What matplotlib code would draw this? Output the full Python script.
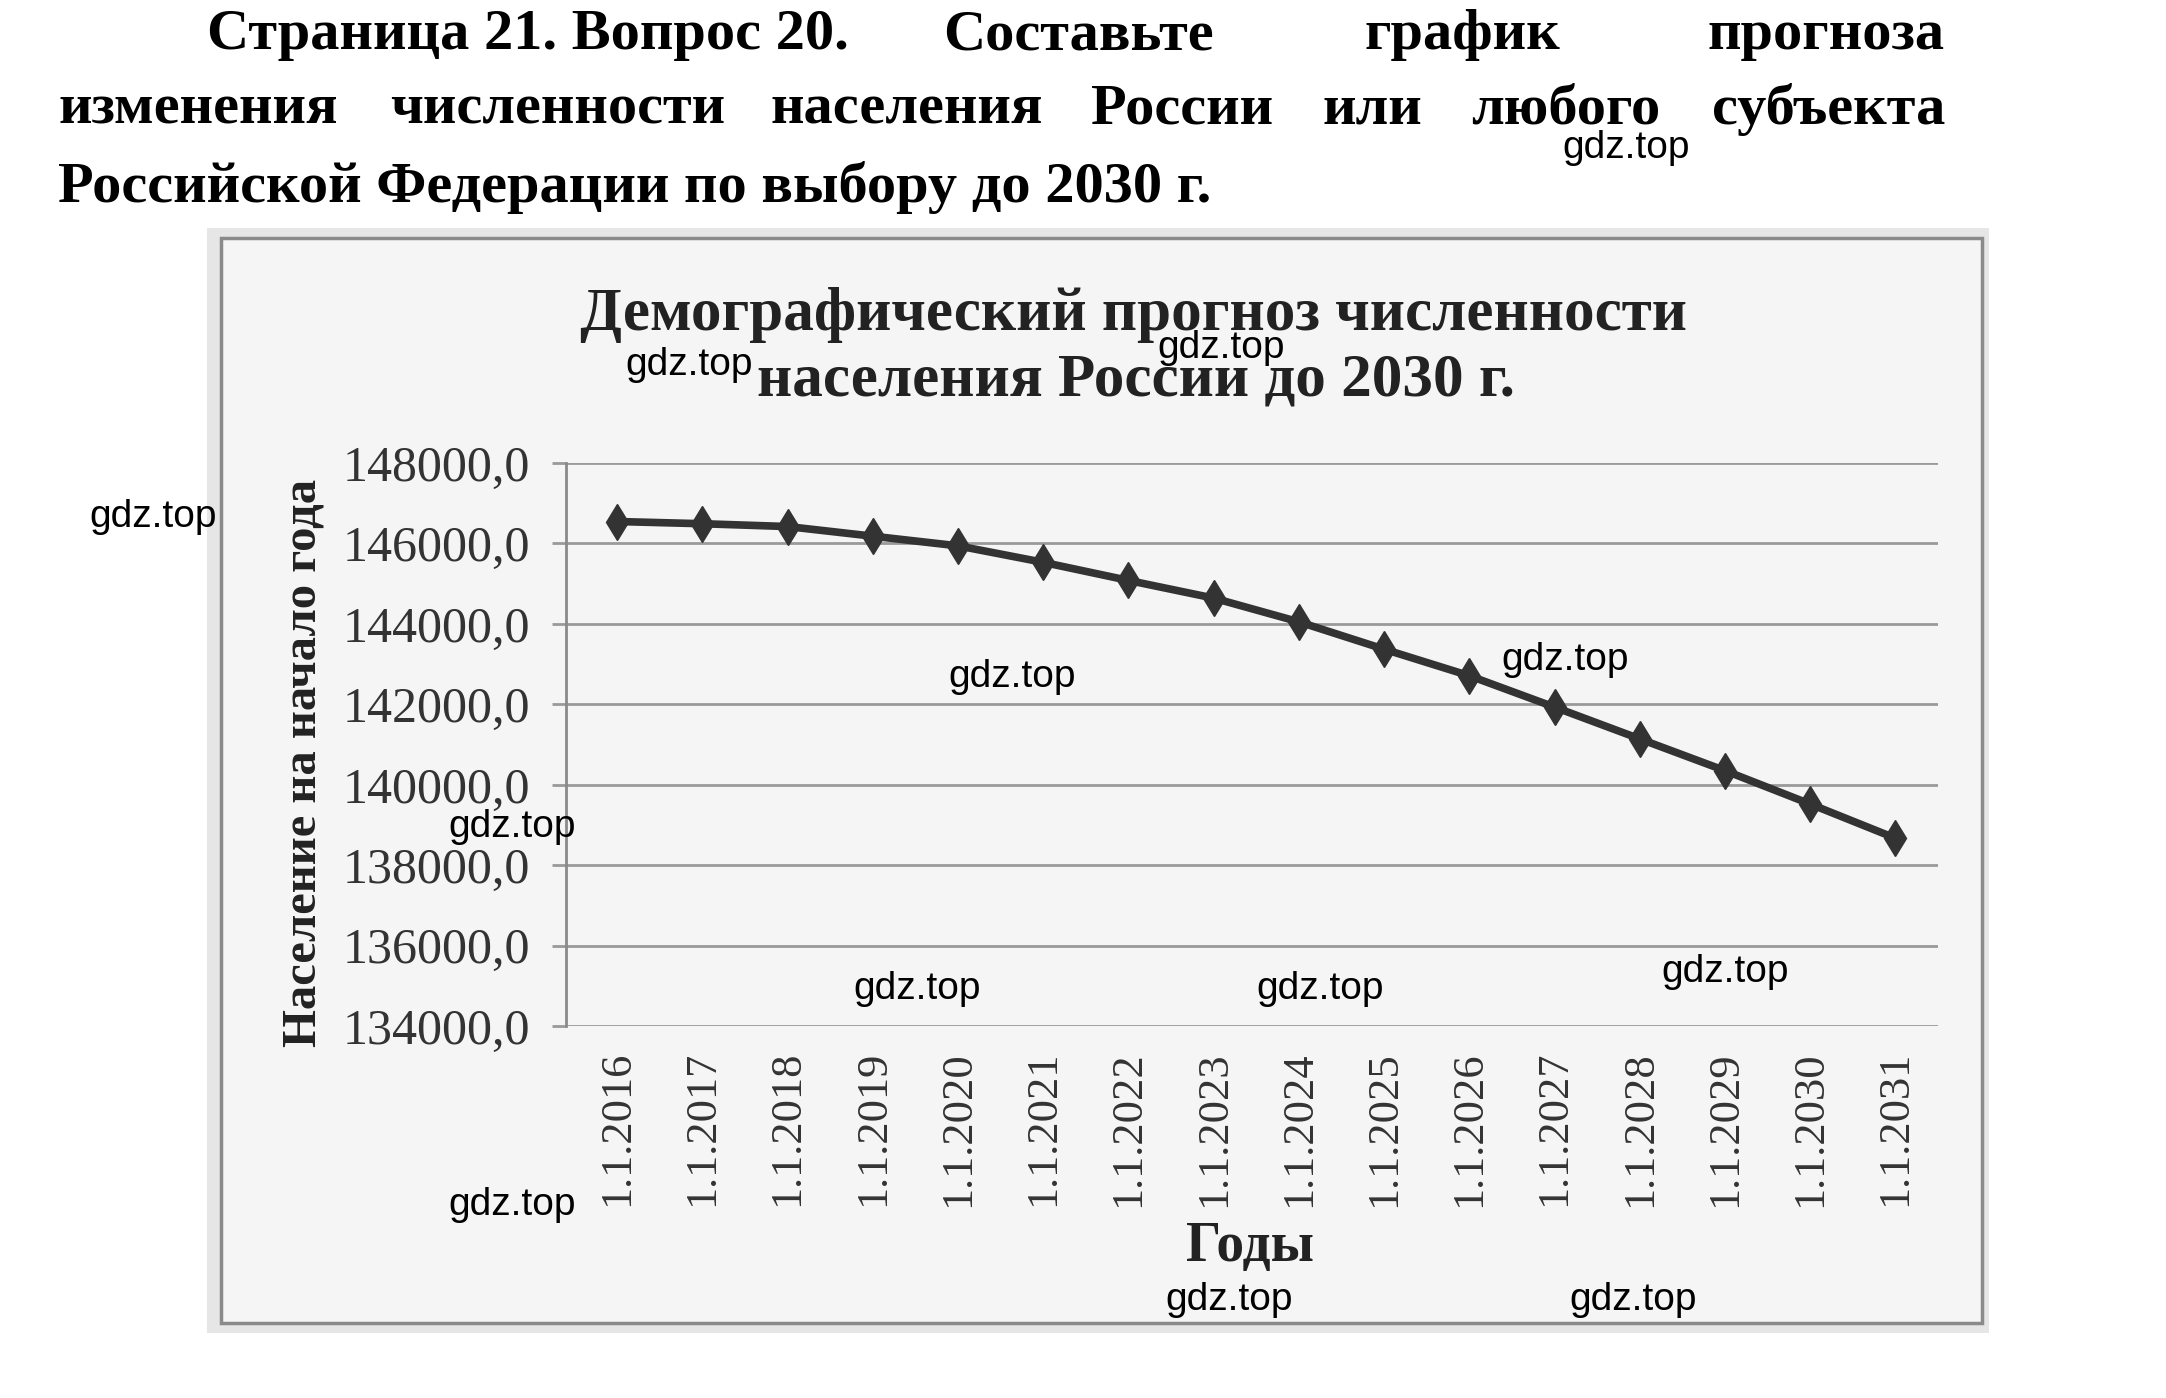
import numpy as np
import matplotlib.pyplot as plt
from matplotlib.patches import Rectangle

# data
years = ['1.1.2016', '1.1.2017', '1.1.2018', '1.1.2019', '1.1.2020', '1.1.2021',
         '1.1.2022', '1.1.2023', '1.1.2024', '1.1.2025', '1.1.2026', '1.1.2027',
         '1.1.2028', '1.1.2029', '1.1.2030', '1.1.2031']
population = [146545, 146490, 146420, 146180, 145940, 145530, 145080, 144640,
              144050, 143370, 142710, 141930, 141140, 140350, 139520, 138670]
yticks = [134000, 136000, 138000, 140000, 142000, 144000, 146000, 148000]

W, H = 2166, 1398
serif = 'Liberation Serif'


def fx(px):
    return px / W


def fy(py):
    return 1 - py / H


fig = plt.figure(figsize=(W / 100, H / 100), dpi=100)
fig.patch.set_facecolor('white')

# chart frame (behind the axes)
fig.patches.append(Rectangle((fx(207), fy(1333)), fx(1989) - fx(207), fy(228) - fy(1333),
                             transform=fig.transFigure, facecolor='#e6e6e6',
                             edgecolor='none', zorder=-2))
fig.patches.append(Rectangle((fx(221), fy(1323)), fx(1982) - fx(221), fy(238) - fy(1323),
                             transform=fig.transFigure, facecolor='#f5f5f5',
                             edgecolor='#8a8a8a', lw=2.5, zorder=-1))

# header text (justified by hand)
hdr = dict(fontsize=42, fontweight='bold', family=serif, va='center')
fig.text(fx(207), fy(35), 'Страница 21. Вопрос 20.', ha='left', **hdr)
fig.text(fx(943), fy(35), 'Составьте', ha='left', **hdr)
fig.text(fx(1365), fy(35), 'график', ha='left', **hdr)
fig.text(fx(1945), fy(35), 'прогноза', ha='right', **hdr)
line2 = [('изменения', 58), ('численности', 390), ('населения', 771), ('России', 1091),
         ('или', 1323), ('любого', 1471)]
for w, x in line2:
    fig.text(fx(x), fy(110), w, ha='left', **hdr)
fig.text(fx(1945), fy(110), 'субъекта', ha='right', **hdr)
fig.text(fx(58), fy(187), 'Российской Федерации по выбору до 2030 г.', ha='left', **hdr)

# chart title
ttl = dict(fontsize=44, fontweight='bold', family=serif, ha='center', va='center',
           color='#222222')
fig.text(fx(1133), fy(315), 'Демографический прогноз численности', **ttl)
fig.text(fx(1136), fy(380), 'населения России до 2030 г.', **ttl)

ax = fig.add_axes([fx(566), fy(1026), fx(1938) - fx(566), fy(463) - fy(1026)])
ax.set_facecolor('none')
x = np.arange(len(years))
ax.plot(x, population, color='#333333', lw=5.5, marker='d', markersize=18,
        zorder=3)
ax.set_xlim(-0.6, 15.5)
ax.set_ylim(134000, 148000)
ax.set_yticks(yticks)
ax.set_yticklabels([f'{v},0' for v in yticks], family=serif, fontsize=36,
                   color='#333333')
ax.set_xticks(x)
ax.set_xticklabels(years, rotation=90, family=serif, fontsize=32, color='#333333')
ax.grid(axis='y', color='#9a9a9a', lw=2)
ax.tick_params(axis='y', length=10, width=2, color='#9a9a9a', pad=16)
ax.tick_params(axis='x', length=0, pad=18)
for s in ['top', 'right', 'bottom']:
    ax.spines[s].set_visible(False)
ax.spines['left'].set_color('#8a8a8a')
ax.spines['left'].set_linewidth(2)

fig.text(fx(304), fy(763), 'Население на начало года', rotation=90, ha='center',
         va='center', fontsize=35, fontweight='bold', family=serif, color='#222222')
fig.text(fx(1250), fy(1247), 'Годы', ha='center', va='center', fontsize=40,
         fontweight='bold', family=serif, color='#222222')

# watermarks
marks = [(1177, 107), (884, 252), (499, 264), (111, 374), (733, 490), (1133, 478),
         (371, 599), (664, 716), (956, 716), (1249, 704), (371, 872), (890, 941),
         (1182, 941)]
for mx, my in marks:
    fig.text(fx(mx * W / 1568), fy(my * W / 1568), 'gdz.top', ha='center', va='center',
             fontsize=28, family='Liberation Sans', color='black', zorder=10)

fig.savefig('out.png', dpi=100)
